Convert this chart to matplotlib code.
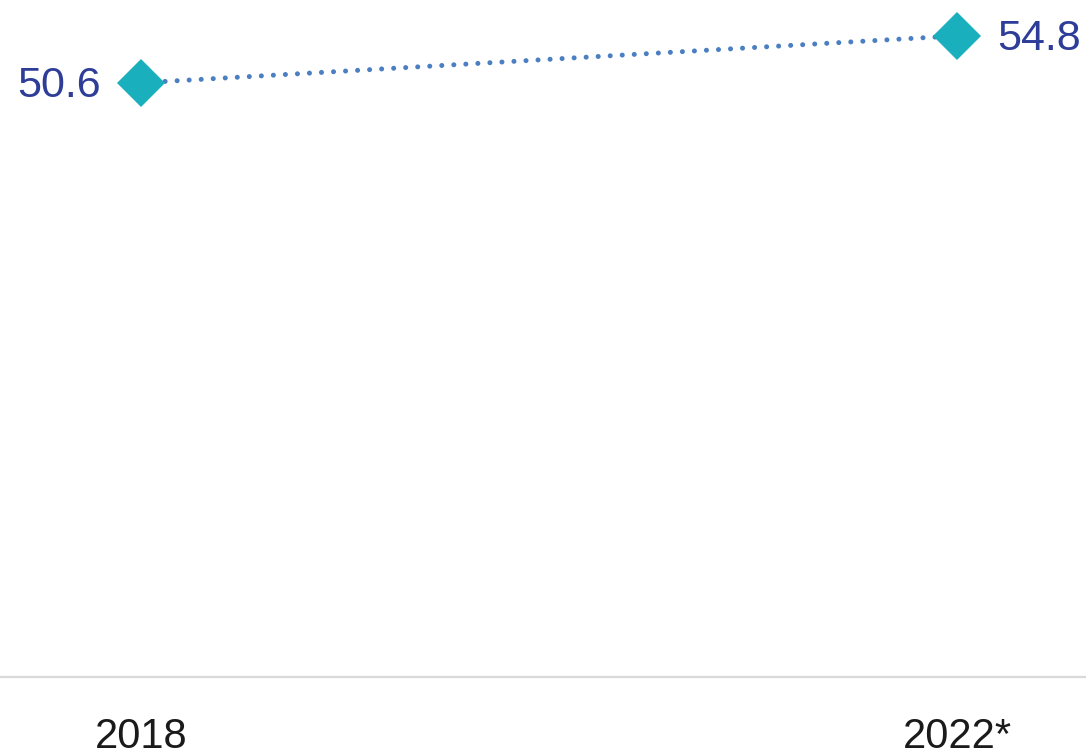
import matplotlib.pyplot as plt

plt.rcParams['font.family'] = ['Liberation Sans', 'DejaVu Sans']

# Data
years = ['2018', '2022*']
values = [50.6, 54.8]
label_text = ['50.6', '54.8']

fig = plt.figure(figsize=(10.86, 7.51), dpi=100)
ax = fig.add_axes([0, 0.0985, 1, 0.9015])

x = list(range(len(years)))
ax.plot(x, values, color='#4A7FC1', lw=3.6, linestyle=(0, (0.01, 2.4)),
        dash_capstyle='round', zorder=2)
ax.plot(x, values, linestyle='none', marker='D', ms=24.5,
        color='#1AAFBC', markeredgewidth=0, zorder=3)

# value labels on either side of the markers
offsets = [(-29, 'right'), (29, 'left')]
for xi, v, t, (dx, ha) in zip(x, values, label_text, offsets):
    ax.annotate(t, (xi, v), xytext=(dx, -2.5), textcoords='offset points',
                ha=ha, va='center', fontsize=31, color='#2E3D98')

ax.set_xlim(-0.1728, 1.158)
ax.set_ylim(-2.5, 58)
ax.set_xticks(x)
ax.set_xticklabels(years, fontsize=30, color='#1a1a1a')
ax.tick_params(axis='x', length=0, pad=29)
ax.set_yticks([])
for s in ['top', 'left', 'right']:
    ax.spines[s].set_visible(False)
ax.spines['bottom'].set_color('#D9D9D9')
ax.spines['bottom'].set_linewidth(1.6)

fig.savefig('out.png', dpi=100)
